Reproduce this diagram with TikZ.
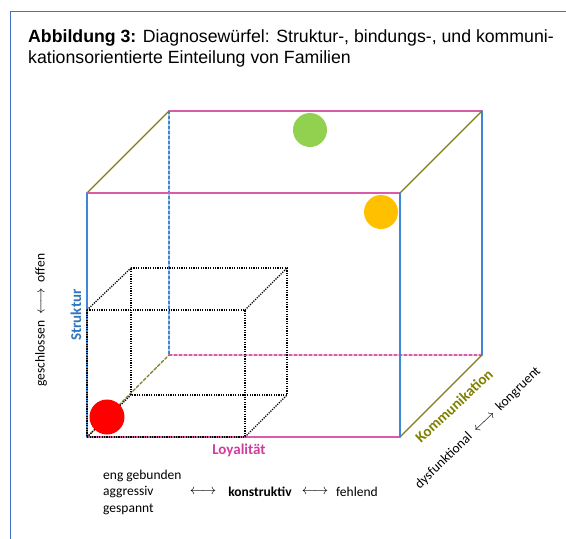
\documentclass[tikz,border=0pt]{standalone}
\usepackage{fontspec}
\setmainfont{Liberation Sans}
\newfontfamily\calibri{Carlito}
\usetikzlibrary{positioning}
\definecolor{rahmenblau}{HTML}{4472C4}
\definecolor{kantenblau}{HTML}{3D87D3}
\definecolor{kantenpink}{HTML}{D95BAA}
\definecolor{kantenoliv}{HTML}{807A1E}
\definecolor{textblau}{HTML}{2E75C0}
\definecolor{textpink}{HTML}{D23CA0}
\definecolor{textoliv}{HTML}{7F7F00}
\definecolor{kreisgruen}{HTML}{92D050}
\definecolor{kreisgelb}{HTML}{FFC000}
\definecolor{kreisrot}{HTML}{FF0000}

\begin{document}
\begin{tikzpicture}[x=1pt,y=-1pt,
        kante/.style={line width=1.4pt, line cap=round},
        gestrichelt/.style={kante, dash pattern=on 3pt off 2pt},
        gepunktet/.style={line width=1.3pt, dash pattern=on 1.2pt off 1.2pt},
        kreis/.style={circle, inner sep=0pt, minimum size=34pt},
        beschriftung/.style={font=\calibri\fontsize{13.5}{16.5}\selectfont, inner sep=0pt},
        pfeil/.style={font=\fontsize{15}{16.5}\selectfont, inner sep=0pt},
        achse/.style={font=\calibri\bfseries\fontsize{15}{18}\selectfont, inner sep=0pt}]
        \useasboundingbox (0,0) rectangle (566,539);

        \coordinate (r1) at (10,539);
        \coordinate (r2) at (10,11);
        \coordinate (r3) at (566,11);
        \draw[rahmenblau, line width=1pt] (r1)--(r2)--(r3);

        \node[anchor=base west, inner sep=0pt, font=\fontsize{17.7}{21}\selectfont] (titel1) at (28,42) {\textbf{Abbildung 3:} Diagnosew\"urfel: Struktur-, bindungs-, und kommuni-};
        \node[anchor=base west, inner sep=0pt, font=\fontsize{17.7}{21}\selectfont] (titel2) at (28,63) {kationsorientierte Einteilung von Familien};

        \coordinate (vlo) at (87,193);
        \coordinate (vro) at (400,193);
        \coordinate (vlu) at (87,437);
        \coordinate (vru) at (400,437);
        \coordinate (hlo) at (169,111);
        \coordinate (hro) at (482,111);
        \coordinate (hlu) at (169,355);
        \coordinate (hru) at (482,355);

        \draw[gestrichelt, kantenblau] (hlo)--(hlu);
        \draw[gestrichelt, kantenpink] (hlu)--(hru);
        \draw[gestrichelt, kantenoliv] (vlu)--(hlu);

        \draw[kante, kantenpink] (hlo)--(hro);
        \draw[kante, kantenblau] (hro)--(hru);
        \draw[kante, kantenoliv] (vlo)--(hlo);
        \draw[kante, kantenoliv] (vro)--(hro);
        \draw[kante, kantenoliv] (vru)--(hru);
        \draw[kante, kantenpink] (vlo)--(vro);
        \draw[kante, kantenpink] (vlu)--(vru);
        \draw[kante, kantenblau] (vlo)--(vlu);
        \draw[kante, kantenblau] (vro)--(vru);

        \coordinate (klo) at (87,310);
        \coordinate (kro) at (245,310);
        \coordinate (klu) at (87,437);
        \coordinate (kru) at (245,437);
        \coordinate (klo2) at (131,268);
        \coordinate (kro2) at (287,268);
        \coordinate (klu2) at (131,395);
        \coordinate (kru2) at (287,395);

        \draw[gepunktet] (klo)--(kro)--(kru)--(klu)--cycle;
        \draw[gepunktet] (klo2)--(kro2)--(kru2)--(klu2)--cycle;
        \draw[gepunktet] (klo)--(klo2);
        \draw[gepunktet] (kro)--(kro2);
        \draw[gepunktet] (kru)--(kru2);
        \draw[gepunktet] (klu)--(klu2);

        \node[kreis, fill=kreisgruen] (gruen) at (310,130) {};
        \node[kreis, fill=kreisgelb] (gelb) at (381,212) {};
        \node[kreis, fill=kreisrot, minimum size=35pt] (rot) at (107,417) {};

        \node[achse, textblau, rotate=90] (struktur) at (76,315) {Struktur};
        \node[beschriftung, rotate=90] (offen) at (41,320) {geschlossen \ {\normalfont\fontsize{15}{16.5}\selectfont$\longleftrightarrow$} \ offen};

        \node[achse, textpink] (loyal) at (239,450) {Loyalit\"at};
        \node[beschriftung, anchor=west, align=left] (eng) at (103,492) {eng gebunden\\aggressiv\\gespannt};
        \node[pfeil] (pfeil1) at (203,492) {$\longleftrightarrow$};
        \node[beschriftung, font=\calibri\bfseries\fontsize{13.5}{16.5}\selectfont] (konstruktiv) at (260,492) {konstruktiv};
        \node[pfeil] (pfeil2) at (315,492) {$\longleftrightarrow$};
        \node[beschriftung] (fehlend) at (357,492) {fehlend};

        \node[achse, textoliv, rotate=43] (kommunikation) at (454,406) {Kommunikation};
        \node[beschriftung, rotate=44] (kongruent) at (478,428) {dysfunktional \ {\normalfont\fontsize{15}{16.5}\selectfont$\longleftrightarrow$} \ kongruent};
    \end{tikzpicture}
\end{document}
